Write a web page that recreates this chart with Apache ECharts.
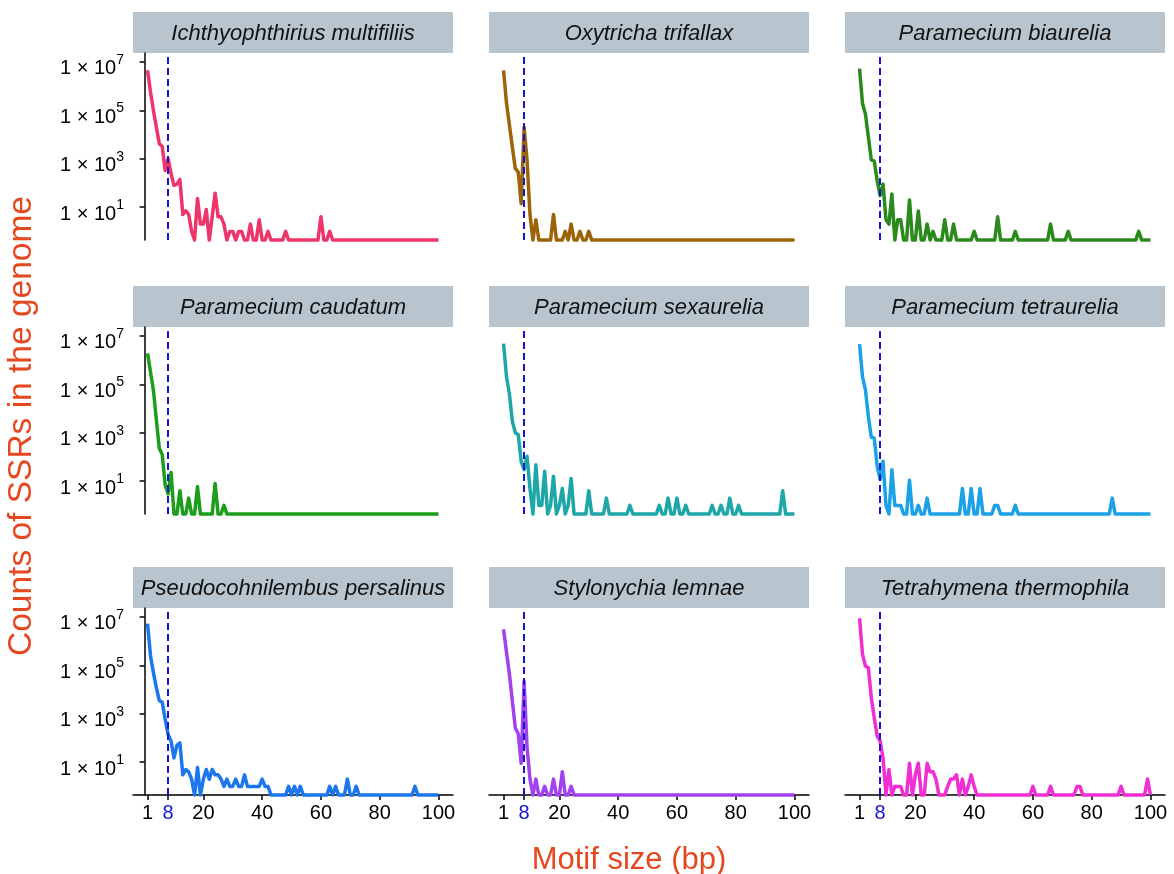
<!DOCTYPE html>
<html>
<head>
<meta charset="utf-8">
<title>Counts of SSRs by motif size</title>
<script src="https://cdn.jsdelivr.net/npm/echarts@6/dist/echarts.min.js"></script>
<style>
  html, body { margin: 0; padding: 0; background: #ffffff; }
  #chart { width: 1174px; height: 874px; }
</style>
</head>
<body>
<div id="chart"></div>
<script>
// motif sizes (bp) on the x axis
const motifSizes = [
  1, 2, 3, 4, 5, 6, 7, 8, 9, 10, 11, 12, 13, 14, 15, 16, 17, 18, 19, 20,
  21, 22, 23, 24, 25, 26, 27, 28, 29, 30, 31, 32, 33, 34, 35, 36, 37, 38, 39, 40,
  41, 42, 43, 44, 45, 46, 47, 48, 49, 50, 51, 52, 53, 54, 55, 56, 57, 58, 59, 60,
  61, 62, 63, 64, 65, 66, 67, 68, 69, 70, 71, 72, 73, 74, 75, 76, 77, 78, 79, 80,
  81, 82, 83, 84, 85, 86, 87, 88, 89, 90, 91, 92, 93, 94, 95, 96, 97, 98, 99, 100
];

const xTickValues = [1, 8, 20, 40, 60, 80, 100];
const yTickValues = [10, 1000, 100000, 10000000];

const speciesNames = [
  'Ichthyophthirius multifiliis', 'Oxytricha trifallax', 'Paramecium biaurelia',
  'Paramecium caudatum', 'Paramecium sexaurelia', 'Paramecium tetraurelia',
  'Pseudocohnilembus persalinus', 'Stylonychia lemnae', 'Tetrahymena thermophila'
];

const speciesColors = [
  '#ee3569', '#9c6408', '#2b8a1c',
  '#1c9e1c', '#1ea7a9', '#1aa1e6',
  '#1c76ee', '#a241ef', '#ef2fd3'
];

// SSR counts per motif size, 1..100 bp (0 = none)
const ichthyophthirius = [
  4500000, 570000, 100000, 20000, 4200, 3200, 330, 1000, 240, 80,
  90, 140, 5, 7, 5, 1, 0, 23, 2, 2,
  8, 0, 4, 38, 4, 4, 2, 0, 1, 1,
  0, 1, 1, 0, 0, 2, 0, 0, 3, 0,
  0, 1, 0, 0, 0, 0, 0, 1, 0, 0,
  0, 0, 0, 0, 0, 0, 0, 0, 0, 4,
  0, 0, 1, 0, 0, 0, 0, 0, 0, 0,
  0, 0, 0, 0, 0, 0, 0, 0, 0, 0,
  0, 0, 0, 0, 0, 0, 0, 0, 0, 0,
  0, 0, 0, 0, 0, 0, 0, 0, 0, 0
];
const oxytricha = [
  4500000, 200000, 25000, 3000, 400, 280, 14, 20000, 850, 5,
  0, 3, 0, 0, 0, 0, 0, 5, 0, 0,
  0, 1, 0, 2, 0, 0, 1, 0, 0, 1,
  0, 0, 0, 0, 0, 0, 0, 0, 0, 0,
  0, 0, 0, 0, 0, 0, 0, 0, 0, 0,
  0, 0, 0, 0, 0, 0, 0, 0, 0, 0,
  0, 0, 0, 0, 0, 0, 0, 0, 0, 0,
  0, 0, 0, 0, 0, 0, 0, 0, 0, 0,
  0, 0, 0, 0, 0, 0, 0, 0, 0, 0,
  0, 0, 0, 0, 0, 0, 0, 0, 0, 0
];
const biaurelia = [
  5300000, 190000, 70000, 8000, 900, 800, 125, 30, 90, 3,
  2, 35, 0, 3, 3, 0, 0, 20, 0, 0,
  7, 0, 0, 2, 0, 1, 0, 0, 0, 3,
  0, 0, 2, 0, 0, 0, 0, 0, 0, 1,
  0, 0, 0, 0, 0, 0, 0, 4, 0, 0,
  0, 0, 0, 1, 0, 0, 0, 0, 0, 0,
  0, 0, 0, 0, 0, 2, 0, 0, 0, 0,
  0, 1, 0, 0, 0, 0, 0, 0, 0, 0,
  0, 0, 0, 0, 0, 0, 0, 0, 0, 0,
  0, 0, 0, 0, 0, 1, 0, 0, 0, 0
];
const caudatum = [
  1900000, 330000, 56000, 3400, 230, 125, 7, 3, 23, 0,
  0, 4, 0, 0, 2, 0, 0, 6, 0, 0,
  0, 0, 0, 8, 0, 0, 1, 0, 0, 0,
  0, 0, 0, 0, 0, 0, 0, 0, 0, 0,
  0, 0, 0, 0, 0, 0, 0, 0, 0, 0,
  0, 0, 0, 0, 0, 0, 0, 0, 0, 0,
  0, 0, 0, 0, 0, 0, 0, 0, 0, 0,
  0, 0, 0, 0, 0, 0, 0, 0, 0, 0,
  0, 0, 0, 0, 0, 0, 0, 0, 0, 0,
  0, 0, 0, 0, 0, 0, 0, 0, 0, 0
];
const sexaurelia = [
  4800000, 210000, 40000, 3000, 1000, 830, 66, 30, 107, 5,
  0, 48, 1, 1, 26, 0, 1, 16, 0, 1,
  5, 0, 1, 13, 0, 0, 0, 0, 0, 4,
  0, 0, 0, 0, 0, 2, 0, 0, 0, 0,
  0, 0, 0, 1, 0, 0, 0, 0, 0, 0,
  0, 0, 0, 1, 0, 0, 2, 0, 0, 2,
  0, 0, 1, 0, 0, 0, 0, 0, 0, 0,
  0, 1, 0, 0, 1, 0, 0, 2, 0, 0,
  1, 0, 0, 0, 0, 0, 0, 0, 0, 0,
  0, 0, 0, 0, 0, 4, 0, 0, 0, 0
];
const tetraurelia = [
  4600000, 210000, 59000, 4700, 660, 600, 41, 12, 66, 1,
  0, 30, 1, 1, 1, 0, 0, 11, 0, 0,
  1, 0, 0, 2, 0, 0, 0, 0, 0, 0,
  0, 0, 0, 0, 0, 5, 0, 0, 5, 0,
  0, 5, 0, 0, 0, 0, 1, 1, 0, 0,
  0, 0, 0, 1, 0, 0, 0, 0, 0, 0,
  0, 0, 0, 0, 0, 0, 0, 0, 0, 0,
  0, 0, 0, 0, 0, 0, 0, 0, 0, 0,
  0, 0, 0, 0, 0, 0, 2, 0, 0, 0,
  0, 0, 0, 0, 0, 0, 0, 0, 0, 0
];
const pseudocohnilembus = [
  5300000, 250000, 50000, 12000, 3500, 3000, 590, 140, 74, 15,
  50, 63, 3, 5, 4, 2, 0, 6, 0, 2,
  5, 2, 5, 3, 3, 2, 1, 2, 1, 1,
  2, 1, 1, 3, 1, 1, 1, 1, 1, 2,
  1, 1, 0, 0, 0, 0, 0, 0, 1, 0,
  1, 0, 1, 0, 0, 0, 0, 0, 0, 0,
  0, 0, 1, 0, 1, 0, 0, 0, 2, 0,
  0, 1, 0, 0, 0, 0, 0, 0, 0, 0,
  0, 0, 0, 0, 0, 0, 0, 0, 0, 0,
  0, 1, 0, 0, 0, 0, 0, 0, 0, 0
];
const stylonychia = [
  3100000, 350000, 43000, 3300, 260, 150, 9, 22000, 40, 2,
  0, 2, 0, 0, 1, 0, 0, 2, 0, 0,
  4, 0, 0, 1, 0, 0, 0, 0, 0, 0,
  0, 0, 0, 0, 0, 0, 0, 0, 0, 0,
  0, 0, 0, 0, 0, 0, 0, 0, 0, 0,
  0, 0, 0, 0, 0, 0, 0, 0, 0, 0,
  0, 0, 0, 0, 0, 0, 0, 0, 0, 0,
  0, 0, 0, 0, 0, 0, 0, 0, 0, 0,
  0, 0, 0, 0, 0, 0, 0, 0, 0, 0,
  0, 0, 0, 0, 0, 0, 0, 0, 0, 0
];
const tetrahymena = [
  8800000, 290000, 94000, 80000, 4600, 680, 120, 75, 15, 0,
  5, 0, 1, 1, 1, 0, 0, 9, 0, 3,
  9, 0, 0, 9, 4, 4, 2, 0, 0, 0,
  1, 2, 2, 3, 0, 2, 0, 1, 3, 1,
  0, 0, 0, 0, 0, 0, 0, 0, 0, 0,
  0, 0, 0, 0, 0, 0, 0, 0, 0, 1,
  0, 0, 0, 0, 0, 1, 0, 0, 0, 0,
  0, 0, 0, 0, 1, 1, 0, 0, 0, 0,
  0, 0, 0, 0, 0, 0, 0, 0, 0, 1,
  0, 0, 0, 0, 0, 0, 0, 0, 2, 0
];

const speciesCounts = [
  ichthyophthirius, oxytricha, biaurelia,
  caudatum, sexaurelia, tetraurelia,
  pseudocohnilembus, stylonychia, tetrahymena
];

// panel layout (px)
const colLeft = [133, 489, 845];
const rowTop = [53, 327, 608];
const PANEL_W = 320;
const PANEL_H = 187;
const STRIP_H = 41;

// shared log axis range, ggplot-style 5% expansion; zero counts sit on the bottom edge
const Y_MIN = Math.pow(10, -0.355);
const Y_MAX = Math.pow(10, 7.368);
const X_MIN = -3.95;
const X_MAX = 104.95;

const FONT = 'Liberation Sans';
const TITLE_COLOR = '#e5481e';
const VLINE_COLOR = '#1414d2';

const grids = [];
const xAxes = [];
const yAxes = [];
const series = [];
const graphics = [];

speciesNames.forEach((name, i) => {
  const col = i % 3;
  const row = Math.floor(i / 3);
  const bottomRow = row === 2;
  const leftCol = col === 0;

  grids.push({
    left: colLeft[col],
    top: rowTop[row],
    width: PANEL_W,
    height: PANEL_H,
    containLabel: false
  });

  xAxes.push({
    gridIndex: i,
    type: 'value',
    min: X_MIN,
    max: X_MAX,
    show: bottomRow,
    splitLine: { show: false },
    axisLine: { show: true, onZero: false, lineStyle: { color: '#000', width: 1.5 } },
    axisTick: { show: true, length: 5, customValues: xTickValues, lineStyle: { color: '#000', width: 1.5 } },
    axisLabel: {
      show: true,
      customValues: xTickValues,
      margin: 8,
      fontSize: 20,
      fontFamily: FONT,
      color: v => (Number(v) === 8 ? VLINE_COLOR : '#000')
    }
  });

  yAxes.push({
    gridIndex: i,
    type: 'log',
    logBase: 10,
    min: Y_MIN,
    max: Y_MAX,
    show: leftCol,
    splitLine: { show: false },
    axisLine: { show: true, lineStyle: { color: '#000', width: 1.5 } },
    axisTick: { show: true, length: 5, customValues: yTickValues, lineStyle: { color: '#000', width: 1.5 } },
    axisLabel: {
      show: true,
      customValues: yTickValues,
      margin: 9,
      formatter: value => '{base|1 × 10}{sup|' + Math.round(Math.log10(value)) + '}',
      rich: {
        base: { fontSize: 20, fontFamily: FONT, color: '#000', padding: [14, 0, 0, 0] },
        sup: { fontSize: 14, fontFamily: FONT, color: '#000', verticalAlign: 'top', padding: [8, 0, 0, 0] }
      }
    }
  });

  series.push({
    name: name,
    type: 'line',
    xAxisIndex: i,
    yAxisIndex: i,
    data: speciesCounts[i].map((v, k) => [motifSizes[k], v > 0 ? v : Y_MIN]),
    symbol: 'none',
    clip: false,
    lineStyle: { color: speciesColors[i], width: 3.5, join: 'round' },
    markLine: {
      silent: true,
      symbol: 'none',
      label: { show: false },
      lineStyle: { color: VLINE_COLOR, width: 2, type: [7, 4] },
      data: [{ xAxis: 8 }]
    }
  });

  // facet strip
  graphics.push({
    type: 'rect',
    silent: true,
    shape: { x: colLeft[col], y: rowTop[row] - STRIP_H, width: PANEL_W, height: STRIP_H },
    style: { fill: '#b9c5ce' }
  });
  graphics.push({
    type: 'text',
    silent: true,
    x: colLeft[col] + PANEL_W / 2,
    y: rowTop[row] - STRIP_H / 2 + 1,
    style: {
      text: name,
      font: 'italic 22px "' + FONT + '"',
      fill: '#111',
      textAlign: 'center',
      textVerticalAlign: 'middle'
    }
  });
});

graphics.push({
  type: 'text',
  silent: true,
  x: 629,
  y: 860,
  style: {
    text: 'Motif size (bp)',
    font: '31px "' + FONT + '"',
    fill: TITLE_COLOR,
    textAlign: 'center',
    textVerticalAlign: 'middle'
  }
});
graphics.push({
  type: 'text',
  silent: true,
  x: 22,
  y: 426,
  rotation: Math.PI / 2,
  style: {
    text: 'Counts of SSRs in the genome',
    font: '33.5px "' + FONT + '"',
    fill: TITLE_COLOR,
    textAlign: 'center',
    textVerticalAlign: 'middle'
  }
});

const chart = echarts.init(document.getElementById('chart'));
chart.setOption({
  animation: false,
  backgroundColor: '#ffffff',
  grid: grids,
  xAxis: xAxes,
  yAxis: yAxes,
  series: series,
  graphic: { elements: graphics }
});
</script>
</body>
</html>
